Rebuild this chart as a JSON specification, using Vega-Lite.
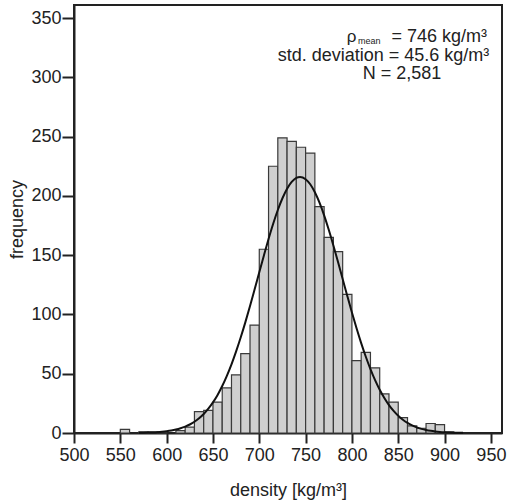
{
  "$schema": "https://vega.github.io/schema/vega-lite/v6.json",
  "width": 428,
  "height": 428,
  "autosize": {"type": "none"},
  "padding": {"left": 74, "top": 5, "right": 5, "bottom": 71},
  "background": "white",
  "config": {
    "view": {"stroke": "#222222", "strokeWidth": 2},
    "axis": {
      "grid": false,
      "domainColor": "#222222",
      "domainWidth": 2,
      "tickColor": "#222222",
      "tickWidth": 2,
      "labelFont": "Liberation Sans",
      "labelFontSize": 18,
      "labelColor": "#222222",
      "labelFlush": false,
      "labelOverlap": false,
      "titleFont": "Liberation Sans",
      "titleFontSize": 18,
      "titleFontWeight": "normal",
      "titleColor": "#222222"
    },
    "text": {"font": "Liberation Sans", "color": "#222222"}
  },
  "layer": [
    {
      "data": {"values": [
        {"bin_start": 550, "bin_end": 560, "count": 3},
        {"bin_start": 570, "bin_end": 580, "count": 1},
        {"bin_start": 580, "bin_end": 590, "count": 1},
        {"bin_start": 590, "bin_end": 600, "count": 1},
        {"bin_start": 610, "bin_end": 620, "count": 2},
        {"bin_start": 620, "bin_end": 630, "count": 5},
        {"bin_start": 630, "bin_end": 640, "count": 18},
        {"bin_start": 640, "bin_end": 650, "count": 19},
        {"bin_start": 650, "bin_end": 660, "count": 26},
        {"bin_start": 660, "bin_end": 670, "count": 38},
        {"bin_start": 670, "bin_end": 680, "count": 49},
        {"bin_start": 680, "bin_end": 690, "count": 67},
        {"bin_start": 690, "bin_end": 700, "count": 91},
        {"bin_start": 700, "bin_end": 710, "count": 155},
        {"bin_start": 710, "bin_end": 720, "count": 225},
        {"bin_start": 720, "bin_end": 730, "count": 249},
        {"bin_start": 730, "bin_end": 740, "count": 246},
        {"bin_start": 740, "bin_end": 750, "count": 241},
        {"bin_start": 750, "bin_end": 760, "count": 236},
        {"bin_start": 760, "bin_end": 770, "count": 191},
        {"bin_start": 770, "bin_end": 780, "count": 165},
        {"bin_start": 780, "bin_end": 790, "count": 153},
        {"bin_start": 790, "bin_end": 800, "count": 117},
        {"bin_start": 800, "bin_end": 810, "count": 61},
        {"bin_start": 810, "bin_end": 820, "count": 68},
        {"bin_start": 820, "bin_end": 830, "count": 55},
        {"bin_start": 830, "bin_end": 840, "count": 33},
        {"bin_start": 840, "bin_end": 850, "count": 26},
        {"bin_start": 850, "bin_end": 860, "count": 13},
        {"bin_start": 860, "bin_end": 870, "count": 6},
        {"bin_start": 870, "bin_end": 880, "count": 4},
        {"bin_start": 880, "bin_end": 890, "count": 8},
        {"bin_start": 890, "bin_end": 900, "count": 7},
        {"bin_start": 900, "bin_end": 910, "count": 1}
      ]},
      "mark": {"type": "bar", "fill": "#cfcfcf", "stroke": "#3a3a3a", "strokeWidth": 1.2},
      "encoding": {
        "x": {
          "field": "bin_start", "type": "quantitative",
          "scale": {"domain": [500, 962], "nice": false, "zero": false},
          "axis": {"values": [500, 550, 600, 650, 700, 750, 800, 850, 900, 950], "tickSize": 10, "labelPadding": 3, "title": "density [kg/m³]", "titleY": 62, "titleBaseline": "alphabetic"}
        },
        "x2": {"field": "bin_end"},
        "y": {
          "field": "count", "type": "quantitative",
          "scale": {"domain": [0, 361], "nice": false},
          "axis": {"values": [0, 50, 100, 150, 200, 250, 300, 350], "tickSize": 12, "labelPadding": 1, "title": "frequency", "titleX": -52, "titleBaseline": "alphabetic"}
        },
        "y2": {"datum": 0}
      }
    },
    {
      "data": {"values": [
        {"x": 570, "y": 0.15}, {"x": 575, "y": 0.22}, {"x": 580, "y": 0.34}, {"x": 585, "y": 0.49},
        {"x": 590, "y": 0.72}, {"x": 595, "y": 1.04}, {"x": 600, "y": 1.48}, {"x": 605, "y": 2.07},
        {"x": 610, "y": 2.88}, {"x": 615, "y": 3.95}, {"x": 620, "y": 5.35}, {"x": 625, "y": 7.17},
        {"x": 630, "y": 9.49}, {"x": 635, "y": 12.4}, {"x": 640, "y": 16.0}, {"x": 645, "y": 20.5},
        {"x": 650, "y": 25.8}, {"x": 655, "y": 32.1}, {"x": 660, "y": 39.6}, {"x": 665, "y": 48.2},
        {"x": 670, "y": 57.9}, {"x": 675, "y": 68.8}, {"x": 680, "y": 80.7}, {"x": 685, "y": 93.5},
        {"x": 690, "y": 107.1}, {"x": 695, "y": 121.3}, {"x": 700, "y": 135.6}, {"x": 705, "y": 149.8},
        {"x": 710, "y": 163.6}, {"x": 715, "y": 176.5}, {"x": 720, "y": 188.1}, {"x": 725, "y": 198.0},
        {"x": 730, "y": 206.1}, {"x": 735, "y": 211.8}, {"x": 740, "y": 215.2}, {"x": 744, "y": 216.0},
        {"x": 750, "y": 214.1}, {"x": 755, "y": 209.8}, {"x": 760, "y": 203.1}, {"x": 765, "y": 194.3},
        {"x": 770, "y": 183.6}, {"x": 775, "y": 171.4}, {"x": 780, "y": 158.2}, {"x": 785, "y": 144.2},
        {"x": 790, "y": 129.9}, {"x": 795, "y": 115.6}, {"x": 800, "y": 101.6}, {"x": 805, "y": 88.3},
        {"x": 810, "y": 75.8}, {"x": 815, "y": 64.3}, {"x": 820, "y": 53.9}, {"x": 825, "y": 44.6},
        {"x": 830, "y": 36.5}, {"x": 835, "y": 29.5}, {"x": 840, "y": 23.5}, {"x": 845, "y": 18.6},
        {"x": 850, "y": 14.5}, {"x": 855, "y": 11.2}, {"x": 860, "y": 8.5}, {"x": 865, "y": 6.39},
        {"x": 870, "y": 4.75}, {"x": 875, "y": 3.49}, {"x": 880, "y": 2.53}, {"x": 885, "y": 1.81},
        {"x": 890, "y": 1.28}, {"x": 895, "y": 0.9}, {"x": 900, "y": 0.62}, {"x": 905, "y": 0.42},
        {"x": 910, "y": 0.29}, {"x": 915, "y": 0.19}, {"x": 920, "y": 0.13}
      ]},
      "mark": {"type": "line", "color": "#111111", "strokeWidth": 2, "interpolate": "monotone"},
      "encoding": {
        "x": {"field": "x", "type": "quantitative"},
        "y": {"field": "y", "type": "quantitative"}
      }
    },
    {
      "data": {"values": [{"label": "ρ"}]},
      "mark": {"type": "text", "align": "left", "baseline": "alphabetic", "fontSize": 17},
      "encoding": {
        "x": {"datum": 794.5, "type": "quantitative"},
        "y": {"datum": 329.8, "type": "quantitative"},
        "text": {"field": "label"}
      }
    },
    {
      "data": {"values": [{"label": "mean"}]},
      "mark": {"type": "text", "align": "left", "baseline": "alphabetic", "fontSize": 9},
      "encoding": {
        "x": {"datum": 806.5, "type": "quantitative"},
        "y": {"datum": 328.3, "type": "quantitative"},
        "text": {"field": "label"}
      }
    },
    {
      "data": {"values": [{"label": "= 746 kg/m³"}]},
      "mark": {"type": "text", "align": "right", "baseline": "alphabetic", "fontSize": 18},
      "encoding": {
        "x": {"datum": 945.8, "type": "quantitative"},
        "y": {"datum": 329.4, "type": "quantitative"},
        "text": {"field": "label"}
      }
    },
    {
      "data": {"values": [{"label": "std. deviation = 45.6 kg/m³"}]},
      "mark": {"type": "text", "align": "right", "baseline": "alphabetic", "fontSize": 18},
      "encoding": {
        "x": {"datum": 948.3, "type": "quantitative"},
        "y": {"datum": 313.8, "type": "quantitative"},
        "text": {"field": "label"}
      }
    },
    {
      "data": {"values": [{"label": "N = 2,581"}]},
      "mark": {"type": "text", "align": "center", "baseline": "alphabetic", "fontSize": 18},
      "encoding": {
        "x": {"datum": 854.1, "type": "quantitative"},
        "y": {"datum": 298.2, "type": "quantitative"},
        "text": {"field": "label"}
      }
    }
  ]
}
